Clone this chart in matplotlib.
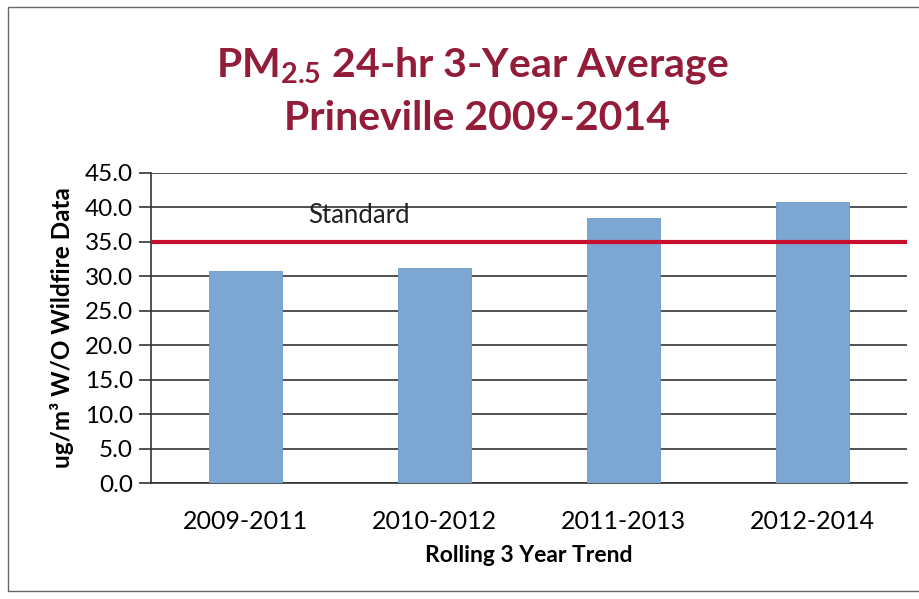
import matplotlib
matplotlib.use("Agg")
import matplotlib.pyplot as plt
from matplotlib.patches import Rectangle

categories = ["2009-2011", "2010-2012", "2011-2013", "2012-2014"]
values = [30.8, 31.2, 38.5, 40.7]
standard = 35.0
yticks = [0, 5, 10, 15, 20, 25, 30, 35, 40, 45]

plt.rcParams['font.family'] = ['Lato', 'DejaVu Sans']
plt.rcParams['mathtext.fontset'] = 'custom'
plt.rcParams['mathtext.rm'] = 'Lato:bold'
plt.rcParams['mathtext.bf'] = 'Lato:bold'

fig = plt.figure(figsize=(9.2, 5.99), dpi=100)
fig.patch.set_facecolor('white')

# outer frame (right edge runs off the picture)
fig.patches.append(Rectangle((8/920, 1 - 591/599), 1.0, (591 - 7)/599,
                             transform=fig.transFigure, fill=False,
                             edgecolor='#666666', linewidth=1.0, clip_on=False))

ax = fig.add_axes([151/920, 1 - 483.3/599, (907 - 151)/920, (483.3 - 172.7)/599])

x = list(range(len(categories)))
ax.bar(x, values, width=0.39, color='#7BA7D2', edgecolor='#6B9BC8', linewidth=0.6, zorder=3)
ax.axhline(standard, color='#C8102E', linewidth=3, zorder=4)

ax.set_ylim(0, 45)
ax.set_xlim(-0.5, len(categories) - 0.5)
ax.set_yticks(yticks)
ax.set_yticklabels([f"{v:.1f}" for v in yticks], fontsize=17.5)
ax.set_xticks(x)
ax.set_xticklabels(categories, fontsize=18)
ax.yaxis.grid(True, color='#333333', linewidth=1.2, zorder=1)
ax.set_axisbelow(True)
ax.tick_params(axis='y', length=9, width=1.2, color='#333333', pad=4)
ax.tick_params(axis='x', length=0, pad=19)
for s in ['top', 'right']:
    ax.spines[s].set_visible(False)
ax.spines['left'].set_color('#333333')
ax.spines['left'].set_linewidth(1.2)
ax.spines['bottom'].set_color('#333333')
ax.spines['bottom'].set_linewidth(1.2)

ax.text(0.6, 37.0, "Standard", fontsize=18.5, ha='center', va='bottom', color='#222222')

ax.set_xlabel("Rolling 3 Year Trend", fontsize=16.5, fontweight='bold', labelpad=9)
ax.set_ylabel("ug/m³ W/O Wildfire Data", fontsize=17.5, fontweight='bold', labelpad=8)

fig.text(472/920, 1 - 66/599, r"PM$_{\mathrm{2.5}}$ 24-hr 3-Year Average", fontsize=29.5,
         fontweight='bold', color='#931C38', ha='center', va='center')
fig.text(477/920, 1 - 118/599, "Prineville 2009-2014", fontsize=29.5,
         fontweight='bold', color='#931C38', ha='center', va='center')

fig.savefig("out.png", dpi=100, facecolor='white')
